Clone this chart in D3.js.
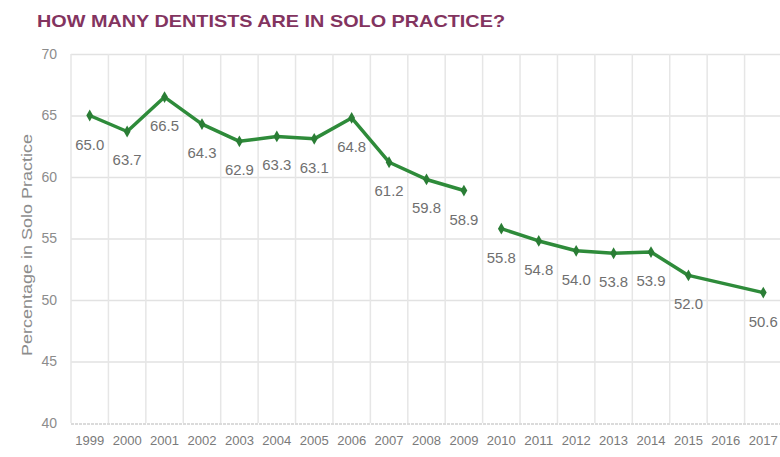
<!DOCTYPE html>
<html>
<head>
<meta charset="utf-8">
<script src="https://cdn.jsdelivr.net/npm/d3@7"></script>
<style>
    body { margin: 0; background: #fff; }
    svg { display: block; }
    text { font-family: "Liberation Sans Narrow", "Liberation Sans", Arial, sans-serif; }
</style>
</head>
<body>
<svg id="plot" width="780" height="457"></svg>
<script>
// data (2016 has no value)
var years = ["1999", "2000", "2001", "2002", "2003", "2004", "2005", "2006", "2007",
             "2008", "2009", "2010", "2011", "2012", "2013", "2014", "2015", "2016", "2017"];
var share = [65.0, 63.7, 66.5, 64.3, 62.9, 63.3, 63.1, 64.8, 61.2,
             59.8, 58.9, 55.8, 54.8, 54.0, 53.8, 53.9, 52.0, null, 50.6];
// the line is broken after this year
var breakAfter = ["2009"];
var yTicks = [40, 45, 50, 55, 60, 65, 70];

var title = "HOW MANY DENTISTS ARE IN SOLO PRACTICE?";
var yLabel = "Percentage in Solo Practice";

function createPlot() {
    const plot = d3.select("svg#plot");
    const left = 71, right = 782, top = 54, bottom = 423;

    let x = d3.scaleBand()
                .domain(years)
                .range([left, right]);

    let y = d3.scaleLinear()
                .domain([40, 70])
                .range([bottom, top]);

    // title
    plot.append("text")
        .attr("x", 37)
        .attr("y", 27)
        .style("font-family", "'Liberation Sans', Arial, sans-serif")
        .style("font-weight", "bold")
        .style("font-size", "17px")
        .style("fill", "#83345f")
        .attr("textLength", 468)
        .attr("lengthAdjust", "spacingAndGlyphs")
        .text(title);

    // horizontal gridlines
    let hLines = d3.axisLeft(y)
                    .tickValues(yTicks.filter(t => t > 40))
                    .tickSize(left - right)
                    .tickFormat("");
    plot.append("g")
        .attr("transform", "translate(" + left + ",0)")
        .call(hLines)
        .call(g => g.select(".domain").remove())
        .selectAll("line")
        .style("stroke", "#e2e2e2")
        .style("stroke-width", 1.5);

    // vertical gridlines at band edges
    let edges = years.map(d => x(d));
    plot.append("g")
        .selectAll("line")
        .data(edges)
        .join("line")
        .attr("x1", d => d)
        .attr("x2", d => d)
        .attr("y1", top)
        .attr("y2", bottom)
        .style("stroke", "#e6e6e6")
        .style("stroke-width", 1.5);

    // bottom axis line
    plot.append("line")
        .attr("x1", left)
        .attr("x2", right)
        .attr("y1", bottom + 1)
        .attr("y2", bottom + 1)
        .style("stroke", "#cfcfcf")
        .style("stroke-width", 1.5)
        .style("stroke-dasharray", "3,1");

    // y axis labels
    let yAxis = d3.axisLeft(y)
                    .tickValues(yTicks)
                    .tickSize(0)
                    .tickPadding(0);
    plot.append("g")
        .attr("transform", "translate(57,0)")
        .call(yAxis)
        .call(g => g.select(".domain").remove())
        .selectAll("text")
        .style("font-size", "14px")
        .style("fill", "#8c8c8c");

    // x axis labels
    let xAxis = d3.axisBottom(x)
                    .tickSize(0)
                    .tickPadding(0);
    plot.append("g")
        .attr("transform", "translate(0," + (bottom + 13) + ")")
        .call(xAxis)
        .call(g => g.select(".domain").remove())
        .selectAll("text")
        .style("font-size", "13px")
        .attr("textLength", 29)
        .attr("lengthAdjust", "spacingAndGlyphs")
        .style("fill", "#7a7a7a");

    plot.append("text")
        .attr("transform", "rotate(-90)")
        .attr("x", -245)
        .attr("y", 32)
        .style("text-anchor", "middle")
        .style("font-size", "15px")
        .style("fill", "#8c8c8c")
        .attr("textLength", 222)
        .attr("lengthAdjust", "spacingAndGlyphs")
        .text(yLabel);

    // split into segments at the break, skip missing values
    let segments = [[]];
    years.forEach((yr, i) => {
        if (share[i] != null) segments[segments.length - 1].push({ year: yr, value: share[i] });
        if (breakAfter.includes(yr)) segments.push([]);
    });

    let cx = d => x(d.year) + x.bandwidth() / 2;
    let line = d3.line()
                .x(cx)
                .y(d => y(d.value));

    plot.append("g")
        .selectAll("path")
        .data(segments)
        .join("path")
        .attr("d", line)
        .style("fill", "none")
        .style("stroke", "#2e8b3a")
        .style("stroke-width", 3.5)
        .style("stroke-linejoin", "round");

    let points = segments.flat();
    plot.append("g")
        .selectAll("path")
        .data(points)
        .join("path")
        .attr("d", d3.symbol(d3.symbolDiamond, 40))
        .attr("transform", d => "translate(" + cx(d) + "," + y(d.value) + ")")
        .style("fill", "#2a7d35");

    // value labels below points
    plot.append("g")
        .selectAll("text")
        .data(points)
        .join("text")
        .attr("x", cx)
        .attr("y", d => y(d.value) + 34)
        .style("text-anchor", "middle")
        .style("font-size", "14px")
        .style("fill", "#707070")
        .attr("textLength", 29)
        .attr("lengthAdjust", "spacingAndGlyphs")
        .text(d => d.value.toFixed(1));
}

createPlot();
</script>
</body>
</html>
